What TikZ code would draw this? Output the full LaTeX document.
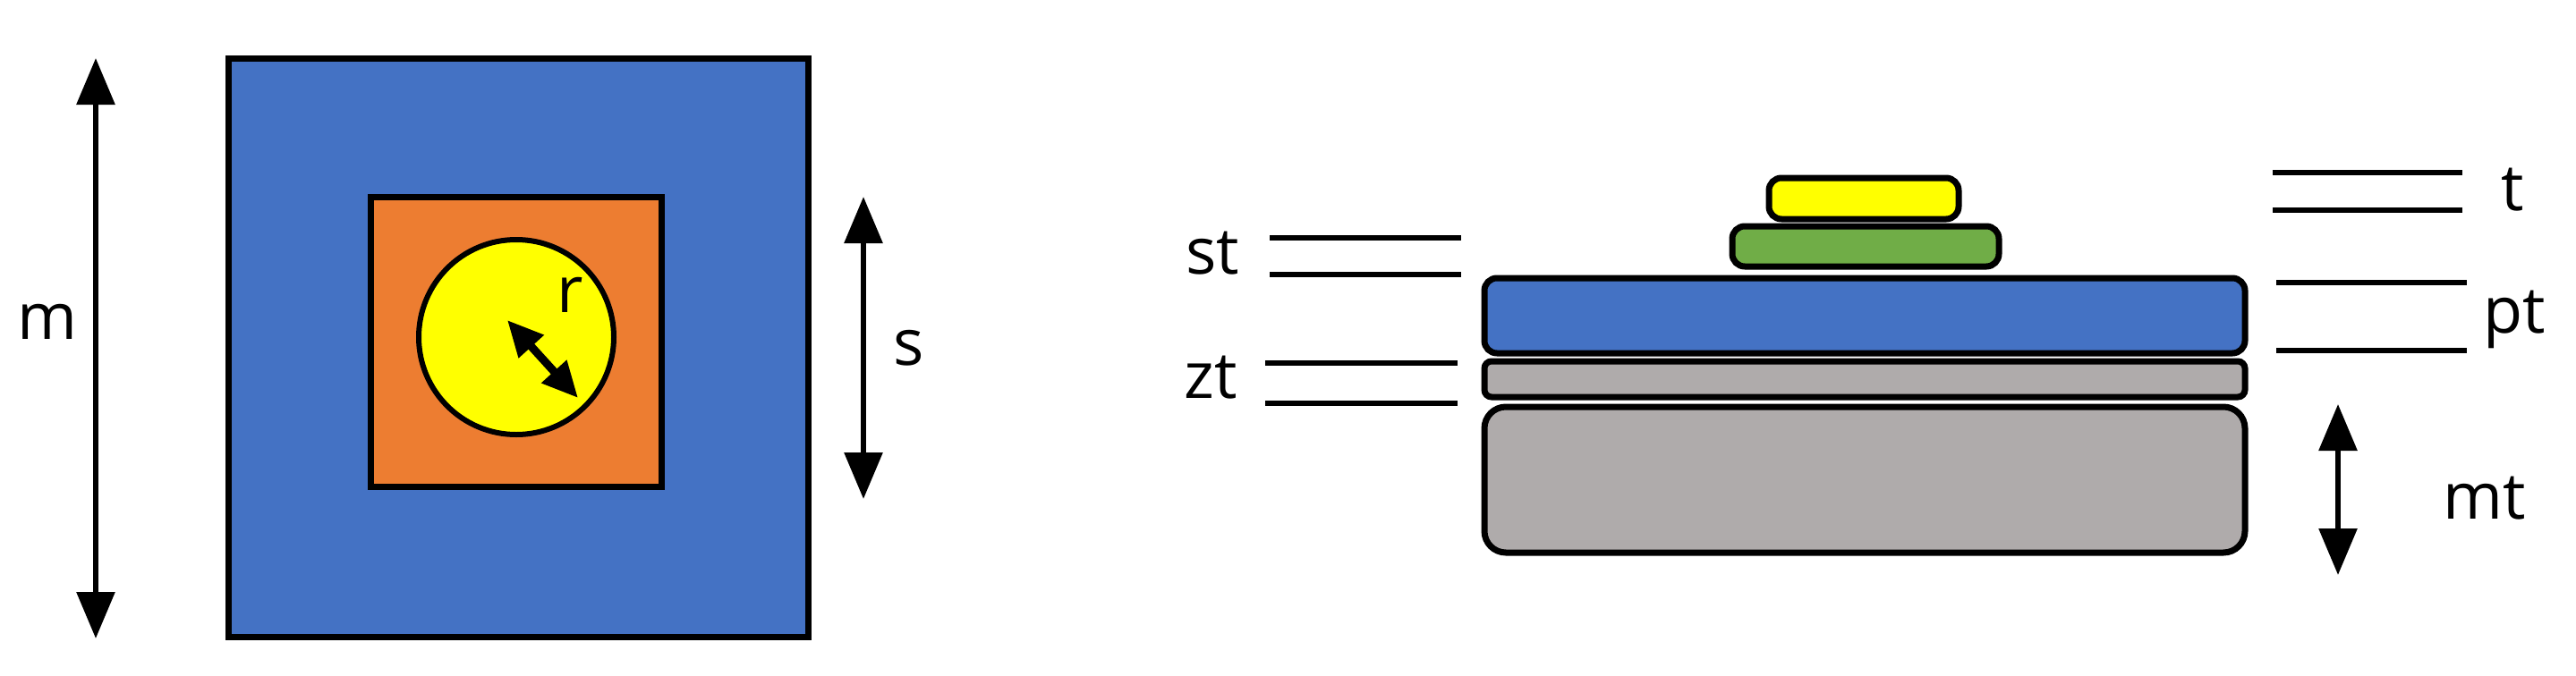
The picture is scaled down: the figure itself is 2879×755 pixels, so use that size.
\documentclass[tikz,border=0pt]{standalone}
\usepackage{fontspec}
\setmainfont{Open Sans}
\usetikzlibrary{arrows.meta}
\definecolor{cblue}{HTML}{4472C4}
\definecolor{corange}{HTML}{ED7D31}
\definecolor{cyel}{HTML}{FFFF00}
\definecolor{cgreen}{HTML}{70AD47}
\definecolor{cgray}{HTML}{AFABAB}
\begin{document}
\begin{tikzpicture}[x=1pt,y=-1pt,
  lbl/.style={font=\fontsize{72}{80}\selectfont, inner sep=0pt},
  dim/.style={line width=6pt, {Triangle[width=42pt,length=52pt]}-{Triangle[width=42pt,length=52pt]}},
  bar/.style={line width=6pt},
  plate/.style={draw=black, line width=7pt, rounded corners=14pt}]
\useasboundingbox (0,0) rectangle (2879,755);
% left
\draw[fill=cblue, line width=7pt] (255,65) rectangle (903,712);
\draw[fill=corange, line width=7pt] (414,220) rectangle (739,544);
\draw[fill=cyel, line width=6pt] (577,377) circle (109);
\coordinate (ma) at (107,65); \coordinate (mb) at (107,714);
\draw[dim] (ma) -- (mb);
\node[lbl] (m) at (53,360) {m};
\coordinate (sa) at (965,220); \coordinate (sb) at (965,558);
\draw[dim] (sa) -- (sb);
\node[lbl] (s) at (1016,389) {s};
\coordinate (ra) at (567,358); \coordinate (rb) at (646,445);
\draw[line width=9pt, {Triangle[width=36pt,length=40pt]}-{Triangle[width=36pt,length=40pt]}] (ra) -- (rb);
\node[lbl] (r) at (637,330) {r};
% right plates
\draw[plate, fill=cyel] (1977,199) rectangle (2189,245);
\draw[plate, fill=cgreen] (1936,253) rectangle (2234,298);
\draw[plate, fill=cblue] (1659,311) rectangle (2509,395);
\draw[plate, fill=cgray, rounded corners=8pt] (1659,404) rectangle (2509,444);
\draw[plate, fill=cgray, rounded corners=24pt] (1659,455) rectangle (2509,618);
% level lines
\draw[bar] (1419,266) -- (1633,266); \draw[bar] (1419,307) -- (1633,307);
\node[lbl] (st) at (1355,283) {st};
\draw[bar] (1414,406) -- (1629,406); \draw[bar] (1414,451) -- (1629,451);
\node[lbl] (zt) at (1353,422) {zt};
\draw[bar] (2540,193) -- (2752,193); \draw[bar] (2540,235) -- (2752,235);
\node[lbl] (t) at (2808,212) {t};
\draw[bar] (2544,316) -- (2757,316); \draw[bar] (2544,392) -- (2757,392);
\node[lbl] (pt) at (2810,357) {pt};
\coordinate (mta) at (2613,452); \coordinate (mtb) at (2613,643);
\draw[dim] (mta) -- (mtb);
\node[lbl] (mt) at (2777,557) {mt};
\end{tikzpicture}
\end{document}
